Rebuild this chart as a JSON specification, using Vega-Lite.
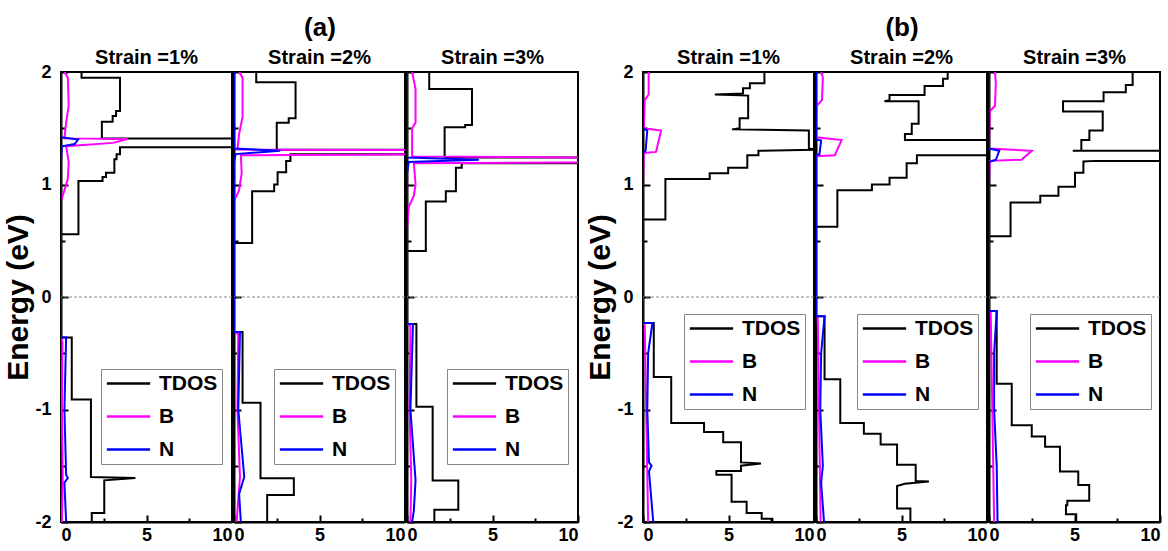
{
"$schema":"https://vega.github.io/schema/vega-lite/v6.json",
"padding":{"top":15,"left":2,"right":5,"bottom":5},
"config":{
 "font":"Liberation Sans",
 "view":{"stroke":"black","strokeWidth":2},
 "axis":{"domainColor":"black","domainWidth":2,"tickColor":"black","tickWidth":2,"labelColor":"black","labelFontSize":18,"labelFontWeight":"bold","labelFont":"Liberation Sans","titleFont":"Liberation Sans","titleColor":"black","titleFontWeight":"bold","grid":false},
 "title":{"fontSize":20,"fontWeight":"bold","font":"Liberation Sans","color":"black","offset":3},
 "legend":{"title":null,"strokeColor":"#888","padding":4,"symbolType":"M-1,0H4","symbolSize":300,"symbolStrokeWidth":2.5,"labelFontSize":21,"labelFontWeight":"bold","labelFont":"Liberation Sans","labelColor":"black","labelOffset":33,"rowPadding":11,"fillColor":"white"}
},
"datasets":{"dos":[
{"p":"a1","s":"TDOS","g":"u","d":1.2,"e":2},{"p":"a1","s":"TDOS","g":"u","d":1.2,"e":1.95},{"p":"a1","s":"TDOS","g":"u","d":3.45,"e":1.95},{"p":"a1","s":"TDOS","g":"u","d":3.45,"e":1.653},{"p":"a1","s":"TDOS","g":"u","d":3.22,"e":1.653},{"p":"a1","s":"TDOS","g":"u","d":3.22,"e":1.609},{"p":"a1","s":"TDOS","g":"u","d":3.02,"e":1.609},{"p":"a1","s":"TDOS","g":"u","d":3.02,"e":1.558},{"p":"a1","s":"TDOS","g":"u","d":2.39,"e":1.558},{"p":"a1","s":"TDOS","g":"u","d":2.39,"e":1.41},{"p":"a1","s":"TDOS","g":"u","d":30,"e":1.41},{"p":"a1","s":"TDOS","g":"u","d":30,"e":1.332},{"p":"a1","s":"TDOS","g":"u","d":3.45,"e":1.332},{"p":"a1","s":"TDOS","g":"u","d":3.45,"e":1.268},{"p":"a1","s":"TDOS","g":"u","d":3.25,"e":1.268},{"p":"a1","s":"TDOS","g":"u","d":3.25,"e":1.224},{"p":"a1","s":"TDOS","g":"u","d":3.12,"e":1.224},{"p":"a1","s":"TDOS","g":"u","d":3.12,"e":1.105},{"p":"a1","s":"TDOS","g":"u","d":2.63,"e":1.105},{"p":"a1","s":"TDOS","g":"u","d":2.63,"e":1.067},{"p":"a1","s":"TDOS","g":"u","d":2.43,"e":1.067},{"p":"a1","s":"TDOS","g":"u","d":2.43,"e":1.031},{"p":"a1","s":"TDOS","g":"u","d":1.02,"e":1.031},{"p":"a1","s":"TDOS","g":"u","d":1.02,"e":0.557},{"p":"a1","s":"TDOS","g":"u","d":0,"e":0.557},
{"p":"a1","s":"TDOS","g":"l","d":0,"e":-0.36},{"p":"a1","s":"TDOS","g":"l","d":0.63,"e":-0.36},{"p":"a1","s":"TDOS","g":"l","d":0.63,"e":-0.91},{"p":"a1","s":"TDOS","g":"l","d":1.75,"e":-0.91},{"p":"a1","s":"TDOS","g":"l","d":1.75,"e":-1.6},{"p":"a1","s":"TDOS","g":"l","d":4.35,"e":-1.608},{"p":"a1","s":"TDOS","g":"l","d":2.53,"e":-1.63},{"p":"a1","s":"TDOS","g":"l","d":2.53,"e":-1.92},{"p":"a1","s":"TDOS","g":"l","d":1.8,"e":-1.92},{"p":"a1","s":"TDOS","g":"l","d":1.8,"e":-2},
{"p":"a1","s":"B","g":"x","d":0.2,"e":2},{"p":"a1","s":"B","g":"x","d":0.4,"e":1.95},{"p":"a1","s":"B","g":"x","d":0.45,"e":1.7},{"p":"a1","s":"B","g":"x","d":0.3,"e":1.55},{"p":"a1","s":"B","g":"x","d":0.2,"e":1.41},{"p":"a1","s":"B","g":"x","d":3.9,"e":1.405},{"p":"a1","s":"B","g":"x","d":3.05,"e":1.37},{"p":"a1","s":"B","g":"x","d":0.3,"e":1.34},{"p":"a1","s":"B","g":"x","d":0.45,"e":1.2},{"p":"a1","s":"B","g":"x","d":0.4,"e":1.05},{"p":"a1","s":"B","g":"x","d":0.2,"e":0.95},{"p":"a1","s":"B","g":"x","d":0,"e":0.85},{"p":"a1","s":"B","g":"x","d":0,"e":-0.36},{"p":"a1","s":"B","g":"x","d":0.08,"e":-0.4},{"p":"a1","s":"B","g":"x","d":0.05,"e":-1.0},{"p":"a1","s":"B","g":"x","d":0.1,"e":-1.6},{"p":"a1","s":"B","g":"x","d":0.05,"e":-2},
{"p":"a1","s":"N","g":"x","d":0,"e":2},{"p":"a1","s":"N","g":"x","d":0,"e":1.42},{"p":"a1","s":"N","g":"x","d":1.0,"e":1.4},{"p":"a1","s":"N","g":"x","d":0.8,"e":1.36},{"p":"a1","s":"N","g":"x","d":0.05,"e":1.34},{"p":"a1","s":"N","g":"x","d":0,"e":1.2},{"p":"a1","s":"N","g":"x","d":0,"e":-0.36},{"p":"a1","s":"N","g":"x","d":0.3,"e":-0.36},{"p":"a1","s":"N","g":"x","d":0.2,"e":-1.0},{"p":"a1","s":"N","g":"x","d":0.3,"e":-1.58},{"p":"a1","s":"N","g":"x","d":0.4,"e":-1.61},{"p":"a1","s":"N","g":"x","d":0.2,"e":-1.65},{"p":"a1","s":"N","g":"x","d":0.3,"e":-2},

{"p":"a2","s":"TDOS","g":"u","d":1.3,"e":2},{"p":"a2","s":"TDOS","g":"u","d":1.3,"e":1.91},{"p":"a2","s":"TDOS","g":"u","d":3.6,"e":1.91},{"p":"a2","s":"TDOS","g":"u","d":3.6,"e":1.59},{"p":"a2","s":"TDOS","g":"u","d":3.2,"e":1.59},{"p":"a2","s":"TDOS","g":"u","d":3.2,"e":1.55},{"p":"a2","s":"TDOS","g":"u","d":2.5,"e":1.55},{"p":"a2","s":"TDOS","g":"u","d":2.5,"e":1.31},{"p":"a2","s":"TDOS","g":"u","d":30,"e":1.31},{"p":"a2","s":"TDOS","g":"u","d":30,"e":1.27},{"p":"a2","s":"TDOS","g":"u","d":3.3,"e":1.27},{"p":"a2","s":"TDOS","g":"u","d":3.3,"e":1.21},{"p":"a2","s":"TDOS","g":"u","d":3.05,"e":1.21},{"p":"a2","s":"TDOS","g":"u","d":3.05,"e":1.11},{"p":"a2","s":"TDOS","g":"u","d":2.55,"e":1.11},{"p":"a2","s":"TDOS","g":"u","d":2.55,"e":1.0},{"p":"a2","s":"TDOS","g":"u","d":2.35,"e":1.0},{"p":"a2","s":"TDOS","g":"u","d":2.35,"e":0.94},{"p":"a2","s":"TDOS","g":"u","d":1.06,"e":0.94},{"p":"a2","s":"TDOS","g":"u","d":1.06,"e":0.48},{"p":"a2","s":"TDOS","g":"u","d":0,"e":0.48},
{"p":"a2","s":"TDOS","g":"l","d":0,"e":-0.31},{"p":"a2","s":"TDOS","g":"l","d":0.5,"e":-0.31},{"p":"a2","s":"TDOS","g":"l","d":0.5,"e":-0.94},{"p":"a2","s":"TDOS","g":"l","d":1.55,"e":-0.94},{"p":"a2","s":"TDOS","g":"l","d":1.55,"e":-1.61},{"p":"a2","s":"TDOS","g":"l","d":3.5,"e":-1.61},{"p":"a2","s":"TDOS","g":"l","d":3.5,"e":-1.76},{"p":"a2","s":"TDOS","g":"l","d":1.94,"e":-1.76},{"p":"a2","s":"TDOS","g":"l","d":1.94,"e":-2},
{"p":"a2","s":"B","g":"x","d":0.3,"e":2},{"p":"a2","s":"B","g":"x","d":0.5,"e":1.95},{"p":"a2","s":"B","g":"x","d":0.5,"e":1.6},{"p":"a2","s":"B","g":"x","d":0.3,"e":1.45},{"p":"a2","s":"B","g":"x","d":0.2,"e":1.31},{"p":"a2","s":"B","g":"x","d":30,"e":1.3},{"p":"a2","s":"B","g":"x","d":30,"e":1.28},{"p":"a2","s":"B","g":"x","d":0.4,"e":1.26},{"p":"a2","s":"B","g":"x","d":0.45,"e":1.1},{"p":"a2","s":"B","g":"x","d":0.3,"e":0.95},{"p":"a2","s":"B","g":"x","d":0,"e":0.85},{"p":"a2","s":"B","g":"x","d":0,"e":-0.31},{"p":"a2","s":"B","g":"x","d":0.25,"e":-0.33},{"p":"a2","s":"B","g":"x","d":0.2,"e":-1.0},{"p":"a2","s":"B","g":"x","d":0.35,"e":-1.6},{"p":"a2","s":"B","g":"x","d":0.15,"e":-2},
{"p":"a2","s":"N","g":"x","d":0,"e":2},{"p":"a2","s":"N","g":"x","d":0,"e":1.32},{"p":"a2","s":"N","g":"x","d":2.7,"e":1.3},{"p":"a2","s":"N","g":"x","d":0.1,"e":1.27},{"p":"a2","s":"N","g":"x","d":0,"e":1.2},{"p":"a2","s":"N","g":"x","d":0,"e":-0.31},{"p":"a2","s":"N","g":"x","d":0.35,"e":-0.31},{"p":"a2","s":"N","g":"x","d":0.25,"e":-1.0},{"p":"a2","s":"N","g":"x","d":0.6,"e":-1.6},{"p":"a2","s":"N","g":"x","d":0.3,"e":-1.75},{"p":"a2","s":"N","g":"x","d":0.4,"e":-2},

{"p":"a3","s":"TDOS","g":"u","d":1.3,"e":2},{"p":"a3","s":"TDOS","g":"u","d":1.3,"e":1.85},{"p":"a3","s":"TDOS","g":"u","d":3.8,"e":1.85},{"p":"a3","s":"TDOS","g":"u","d":3.8,"e":1.53},{"p":"a3","s":"TDOS","g":"u","d":3.4,"e":1.53},{"p":"a3","s":"TDOS","g":"u","d":3.4,"e":1.51},{"p":"a3","s":"TDOS","g":"u","d":2.2,"e":1.51},{"p":"a3","s":"TDOS","g":"u","d":2.2,"e":1.24},{"p":"a3","s":"TDOS","g":"u","d":30,"e":1.24},{"p":"a3","s":"TDOS","g":"u","d":30,"e":1.19},{"p":"a3","s":"TDOS","g":"u","d":3.2,"e":1.19},{"p":"a3","s":"TDOS","g":"u","d":3.2,"e":1.15},{"p":"a3","s":"TDOS","g":"u","d":2.86,"e":1.15},{"p":"a3","s":"TDOS","g":"u","d":2.86,"e":0.94},{"p":"a3","s":"TDOS","g":"u","d":2.27,"e":0.94},{"p":"a3","s":"TDOS","g":"u","d":2.27,"e":0.85},{"p":"a3","s":"TDOS","g":"u","d":1.1,"e":0.85},{"p":"a3","s":"TDOS","g":"u","d":1.1,"e":0.41},{"p":"a3","s":"TDOS","g":"u","d":0,"e":0.41},
{"p":"a3","s":"TDOS","g":"l","d":0,"e":-0.24},{"p":"a3","s":"TDOS","g":"l","d":0.55,"e":-0.24},{"p":"a3","s":"TDOS","g":"l","d":0.55,"e":-0.975},{"p":"a3","s":"TDOS","g":"l","d":1.5,"e":-0.975},{"p":"a3","s":"TDOS","g":"l","d":1.5,"e":-1.63},{"p":"a3","s":"TDOS","g":"l","d":3.0,"e":-1.63},{"p":"a3","s":"TDOS","g":"l","d":3.0,"e":-1.89},{"p":"a3","s":"TDOS","g":"l","d":1.6,"e":-1.89},{"p":"a3","s":"TDOS","g":"l","d":1.6,"e":-2},
{"p":"a3","s":"B","g":"x","d":0.3,"e":2},{"p":"a3","s":"B","g":"x","d":0.5,"e":1.85},{"p":"a3","s":"B","g":"x","d":0.5,"e":1.55},{"p":"a3","s":"B","g":"x","d":0.3,"e":1.5},{"p":"a3","s":"B","g":"x","d":0.3,"e":1.25},{"p":"a3","s":"B","g":"x","d":30,"e":1.22},{"p":"a3","s":"B","g":"x","d":30,"e":1.21},{"p":"a3","s":"B","g":"x","d":0.4,"e":1.19},{"p":"a3","s":"B","g":"x","d":0.5,"e":1.0},{"p":"a3","s":"B","g":"x","d":0.4,"e":0.9},{"p":"a3","s":"B","g":"x","d":0.1,"e":0.8},{"p":"a3","s":"B","g":"x","d":0,"e":0.6},{"p":"a3","s":"B","g":"x","d":0,"e":-0.24},{"p":"a3","s":"B","g":"x","d":0.2,"e":-0.26},{"p":"a3","s":"B","g":"x","d":0.15,"e":-1.0},{"p":"a3","s":"B","g":"x","d":0.25,"e":-1.63},{"p":"a3","s":"B","g":"x","d":0.2,"e":-2},
{"p":"a3","s":"N","g":"x","d":0,"e":2},{"p":"a3","s":"N","g":"x","d":0,"e":1.24},{"p":"a3","s":"N","g":"x","d":4.2,"e":1.22},{"p":"a3","s":"N","g":"x","d":0.1,"e":1.2},{"p":"a3","s":"N","g":"x","d":0,"e":1.1},{"p":"a3","s":"N","g":"x","d":0,"e":-0.24},{"p":"a3","s":"N","g":"x","d":0.35,"e":-0.24},{"p":"a3","s":"N","g":"x","d":0.2,"e":-1.0},{"p":"a3","s":"N","g":"x","d":0.5,"e":-1.63},{"p":"a3","s":"N","g":"x","d":0.4,"e":-1.9},{"p":"a3","s":"N","g":"x","d":0.3,"e":-2},

{"p":"b1","s":"TDOS","g":"u","d":7.1,"e":2},{"p":"b1","s":"TDOS","g":"u","d":7.1,"e":1.9},{"p":"b1","s":"TDOS","g":"u","d":6.25,"e":1.9},{"p":"b1","s":"TDOS","g":"u","d":6.25,"e":1.855},{"p":"b1","s":"TDOS","g":"u","d":5.85,"e":1.855},{"p":"b1","s":"TDOS","g":"u","d":5.85,"e":1.81},{"p":"b1","s":"TDOS","g":"u","d":4.2,"e":1.8},{"p":"b1","s":"TDOS","g":"u","d":6.15,"e":1.79},{"p":"b1","s":"TDOS","g":"u","d":6.15,"e":1.59},{"p":"b1","s":"TDOS","g":"u","d":5.65,"e":1.59},{"p":"b1","s":"TDOS","g":"u","d":5.65,"e":1.5},{"p":"b1","s":"TDOS","g":"u","d":5.2,"e":1.49},{"p":"b1","s":"TDOS","g":"u","d":9.7,"e":1.48},{"p":"b1","s":"TDOS","g":"u","d":9.7,"e":1.32},{"p":"b1","s":"TDOS","g":"u","d":10.2,"e":1.31},{"p":"b1","s":"TDOS","g":"u","d":6.75,"e":1.3},{"p":"b1","s":"TDOS","g":"u","d":6.75,"e":1.26},{"p":"b1","s":"TDOS","g":"u","d":6.1,"e":1.26},{"p":"b1","s":"TDOS","g":"u","d":6.1,"e":1.15},{"p":"b1","s":"TDOS","g":"u","d":4.98,"e":1.15},{"p":"b1","s":"TDOS","g":"u","d":4.98,"e":1.1},{"p":"b1","s":"TDOS","g":"u","d":3.9,"e":1.1},{"p":"b1","s":"TDOS","g":"u","d":3.9,"e":1.05},{"p":"b1","s":"TDOS","g":"u","d":1.31,"e":1.05},{"p":"b1","s":"TDOS","g":"u","d":1.31,"e":0.69},{"p":"b1","s":"TDOS","g":"u","d":0,"e":0.69},
{"p":"b1","s":"TDOS","g":"l","d":0,"e":-0.23},{"p":"b1","s":"TDOS","g":"l","d":0.63,"e":-0.23},{"p":"b1","s":"TDOS","g":"l","d":0.63,"e":-0.71},{"p":"b1","s":"TDOS","g":"l","d":1.65,"e":-0.71},{"p":"b1","s":"TDOS","g":"l","d":1.65,"e":-1.12},{"p":"b1","s":"TDOS","g":"l","d":3.57,"e":-1.12},{"p":"b1","s":"TDOS","g":"l","d":3.57,"e":-1.2},{"p":"b1","s":"TDOS","g":"l","d":4.69,"e":-1.2},{"p":"b1","s":"TDOS","g":"l","d":4.69,"e":-1.29},{"p":"b1","s":"TDOS","g":"l","d":5.73,"e":-1.29},{"p":"b1","s":"TDOS","g":"l","d":5.73,"e":-1.47},{"p":"b1","s":"TDOS","g":"l","d":6.9,"e":-1.48},{"p":"b1","s":"TDOS","g":"l","d":5.73,"e":-1.5},{"p":"b1","s":"TDOS","g":"l","d":5.73,"e":-1.547},{"p":"b1","s":"TDOS","g":"l","d":4.29,"e":-1.547},{"p":"b1","s":"TDOS","g":"l","d":4.29,"e":-1.58},{"p":"b1","s":"TDOS","g":"l","d":5.18,"e":-1.58},{"p":"b1","s":"TDOS","g":"l","d":5.18,"e":-1.82},{"p":"b1","s":"TDOS","g":"l","d":6.06,"e":-1.82},{"p":"b1","s":"TDOS","g":"l","d":6.06,"e":-1.92},{"p":"b1","s":"TDOS","g":"l","d":6.94,"e":-1.92},{"p":"b1","s":"TDOS","g":"l","d":6.94,"e":-1.97},{"p":"b1","s":"TDOS","g":"l","d":7.57,"e":-1.97},{"p":"b1","s":"TDOS","g":"l","d":7.57,"e":-2},
{"p":"b1","s":"B","g":"x","d":0.33,"e":2},{"p":"b1","s":"B","g":"x","d":0.33,"e":1.8},{"p":"b1","s":"B","g":"x","d":0.1,"e":1.75},{"p":"b1","s":"B","g":"x","d":0.05,"e":1.5},{"p":"b1","s":"B","g":"x","d":1.06,"e":1.48},{"p":"b1","s":"B","g":"x","d":0.76,"e":1.29},{"p":"b1","s":"B","g":"x","d":0.05,"e":1.28},{"p":"b1","s":"B","g":"x","d":0,"e":1.0},{"p":"b1","s":"B","g":"x","d":0,"e":-0.23},{"p":"b1","s":"B","g":"x","d":0.1,"e":-0.25},{"p":"b1","s":"B","g":"x","d":0.3,"e":-2},
{"p":"b1","s":"N","g":"x","d":0,"e":2},{"p":"b1","s":"N","g":"x","d":0,"e":1.5},{"p":"b1","s":"N","g":"x","d":0.25,"e":1.48},{"p":"b1","s":"N","g":"x","d":0.15,"e":1.3},{"p":"b1","s":"N","g":"x","d":0,"e":1.28},{"p":"b1","s":"N","g":"x","d":0,"e":-0.23},{"p":"b1","s":"N","g":"x","d":0.55,"e":-0.23},{"p":"b1","s":"N","g":"x","d":0.3,"e":-0.5},{"p":"b1","s":"N","g":"x","d":0.25,"e":-1.0},{"p":"b1","s":"N","g":"x","d":0.35,"e":-1.47},{"p":"b1","s":"N","g":"x","d":0.5,"e":-1.5},{"p":"b1","s":"N","g":"x","d":0.35,"e":-1.55},{"p":"b1","s":"N","g":"x","d":0.6,"e":-2},

{"p":"b2","s":"TDOS","g":"u","d":7.7,"e":2},{"p":"b2","s":"TDOS","g":"u","d":7.7,"e":1.94},{"p":"b2","s":"TDOS","g":"u","d":7.43,"e":1.94},{"p":"b2","s":"TDOS","g":"u","d":7.43,"e":1.875},{"p":"b2","s":"TDOS","g":"u","d":6.35,"e":1.875},{"p":"b2","s":"TDOS","g":"u","d":6.35,"e":1.795},{"p":"b2","s":"TDOS","g":"u","d":4.3,"e":1.795},{"p":"b2","s":"TDOS","g":"u","d":4.3,"e":1.75},{"p":"b2","s":"TDOS","g":"u","d":4.0,"e":1.74},{"p":"b2","s":"TDOS","g":"u","d":6.0,"e":1.74},{"p":"b2","s":"TDOS","g":"u","d":6.0,"e":1.54},{"p":"b2","s":"TDOS","g":"u","d":5.6,"e":1.54},{"p":"b2","s":"TDOS","g":"u","d":5.6,"e":1.45},{"p":"b2","s":"TDOS","g":"u","d":5.2,"e":1.45},{"p":"b2","s":"TDOS","g":"u","d":5.2,"e":1.395},{"p":"b2","s":"TDOS","g":"u","d":30,"e":1.395},{"p":"b2","s":"TDOS","g":"u","d":30,"e":1.26},{"p":"b2","s":"TDOS","g":"u","d":5.9,"e":1.26},{"p":"b2","s":"TDOS","g":"u","d":5.9,"e":1.19},{"p":"b2","s":"TDOS","g":"u","d":5.3,"e":1.19},{"p":"b2","s":"TDOS","g":"u","d":5.3,"e":1.06},{"p":"b2","s":"TDOS","g":"u","d":4.3,"e":1.06},{"p":"b2","s":"TDOS","g":"u","d":4.3,"e":1.0},{"p":"b2","s":"TDOS","g":"u","d":3.27,"e":1.0},{"p":"b2","s":"TDOS","g":"u","d":3.27,"e":0.95},{"p":"b2","s":"TDOS","g":"u","d":1.25,"e":0.95},{"p":"b2","s":"TDOS","g":"u","d":1.25,"e":0.625},{"p":"b2","s":"TDOS","g":"u","d":0,"e":0.625},
{"p":"b2","s":"TDOS","g":"l","d":0,"e":-0.17},{"p":"b2","s":"TDOS","g":"l","d":0.5,"e":-0.17},{"p":"b2","s":"TDOS","g":"l","d":0.5,"e":-0.73},{"p":"b2","s":"TDOS","g":"l","d":1.42,"e":-0.73},{"p":"b2","s":"TDOS","g":"l","d":1.42,"e":-1.12},{"p":"b2","s":"TDOS","g":"l","d":2.8,"e":-1.12},{"p":"b2","s":"TDOS","g":"l","d":2.8,"e":-1.215},{"p":"b2","s":"TDOS","g":"l","d":3.78,"e":-1.215},{"p":"b2","s":"TDOS","g":"l","d":3.78,"e":-1.31},{"p":"b2","s":"TDOS","g":"l","d":4.74,"e":-1.31},{"p":"b2","s":"TDOS","g":"l","d":4.74,"e":-1.49},{"p":"b2","s":"TDOS","g":"l","d":5.83,"e":-1.49},{"p":"b2","s":"TDOS","g":"l","d":5.83,"e":-1.635},{"p":"b2","s":"TDOS","g":"l","d":6.6,"e":-1.64},{"p":"b2","s":"TDOS","g":"l","d":5.19,"e":-1.66},{"p":"b2","s":"TDOS","g":"l","d":4.74,"e":-1.68},{"p":"b2","s":"TDOS","g":"l","d":4.74,"e":-1.88},{"p":"b2","s":"TDOS","g":"l","d":5.52,"e":-1.88},{"p":"b2","s":"TDOS","g":"l","d":5.52,"e":-2},
{"p":"b2","s":"B","g":"x","d":0.3,"e":2},{"p":"b2","s":"B","g":"x","d":0.4,"e":1.95},{"p":"b2","s":"B","g":"x","d":0.35,"e":1.75},{"p":"b2","s":"B","g":"x","d":0.05,"e":1.7},{"p":"b2","s":"B","g":"x","d":0,"e":1.42},{"p":"b2","s":"B","g":"x","d":1.5,"e":1.395},{"p":"b2","s":"B","g":"x","d":1.1,"e":1.26},{"p":"b2","s":"B","g":"x","d":0,"e":1.25},{"p":"b2","s":"B","g":"x","d":0,"e":-0.17},{"p":"b2","s":"B","g":"x","d":0.1,"e":-0.17},{"p":"b2","s":"B","g":"x","d":0.27,"e":-2},
{"p":"b2","s":"N","g":"x","d":0,"e":2},{"p":"b2","s":"N","g":"x","d":0,"e":1.4},{"p":"b2","s":"N","g":"x","d":0.3,"e":1.39},{"p":"b2","s":"N","g":"x","d":0.2,"e":1.27},{"p":"b2","s":"N","g":"x","d":0,"e":1.26},{"p":"b2","s":"N","g":"x","d":0,"e":-0.17},{"p":"b2","s":"N","g":"x","d":0.5,"e":-0.17},{"p":"b2","s":"N","g":"x","d":0.3,"e":-0.5},{"p":"b2","s":"N","g":"x","d":0.25,"e":-1.0},{"p":"b2","s":"N","g":"x","d":0.4,"e":-1.5},{"p":"b2","s":"N","g":"x","d":0.3,"e":-1.65},{"p":"b2","s":"N","g":"x","d":0.47,"e":-2},

{"p":"b3","s":"TDOS","g":"u","d":8.4,"e":2},{"p":"b3","s":"TDOS","g":"u","d":8.4,"e":1.885},{"p":"b3","s":"TDOS","g":"u","d":8.0,"e":1.885},{"p":"b3","s":"TDOS","g":"u","d":8.0,"e":1.82},{"p":"b3","s":"TDOS","g":"u","d":6.7,"e":1.82},{"p":"b3","s":"TDOS","g":"u","d":6.7,"e":1.74},{"p":"b3","s":"TDOS","g":"u","d":4.33,"e":1.74},{"p":"b3","s":"TDOS","g":"u","d":4.33,"e":1.65},{"p":"b3","s":"TDOS","g":"u","d":6.65,"e":1.65},{"p":"b3","s":"TDOS","g":"u","d":6.65,"e":1.48},{"p":"b3","s":"TDOS","g":"u","d":5.87,"e":1.48},{"p":"b3","s":"TDOS","g":"u","d":5.87,"e":1.395},{"p":"b3","s":"TDOS","g":"u","d":5.4,"e":1.395},{"p":"b3","s":"TDOS","g":"u","d":5.4,"e":1.3},{"p":"b3","s":"TDOS","g":"u","d":4.9,"e":1.3},{"p":"b3","s":"TDOS","g":"u","d":30,"e":1.3},{"p":"b3","s":"TDOS","g":"u","d":30,"e":1.21},{"p":"b3","s":"TDOS","g":"u","d":6.2,"e":1.21},{"p":"b3","s":"TDOS","g":"u","d":5.52,"e":1.205},{"p":"b3","s":"TDOS","g":"u","d":5.52,"e":1.105},{"p":"b3","s":"TDOS","g":"u","d":5.03,"e":1.105},{"p":"b3","s":"TDOS","g":"u","d":5.03,"e":0.98},{"p":"b3","s":"TDOS","g":"u","d":4.06,"e":0.98},{"p":"b3","s":"TDOS","g":"u","d":4.06,"e":0.9},{"p":"b3","s":"TDOS","g":"u","d":3.0,"e":0.9},{"p":"b3","s":"TDOS","g":"u","d":3.0,"e":0.84},{"p":"b3","s":"TDOS","g":"u","d":1.26,"e":0.84},{"p":"b3","s":"TDOS","g":"u","d":1.26,"e":0.54},{"p":"b3","s":"TDOS","g":"u","d":0,"e":0.54},
{"p":"b3","s":"TDOS","g":"l","d":0,"e":-0.125},{"p":"b3","s":"TDOS","g":"l","d":0.45,"e":-0.125},{"p":"b3","s":"TDOS","g":"l","d":0.45,"e":-0.77},{"p":"b3","s":"TDOS","g":"l","d":1.33,"e":-0.77},{"p":"b3","s":"TDOS","g":"l","d":1.33,"e":-1.14},{"p":"b3","s":"TDOS","g":"l","d":2.5,"e":-1.14},{"p":"b3","s":"TDOS","g":"l","d":2.5,"e":-1.24},{"p":"b3","s":"TDOS","g":"l","d":3.28,"e":-1.24},{"p":"b3","s":"TDOS","g":"l","d":3.28,"e":-1.33},{"p":"b3","s":"TDOS","g":"l","d":4.15,"e":-1.33},{"p":"b3","s":"TDOS","g":"l","d":4.15,"e":-1.55},{"p":"b3","s":"TDOS","g":"l","d":5.22,"e":-1.55},{"p":"b3","s":"TDOS","g":"l","d":5.22,"e":-1.67},{"p":"b3","s":"TDOS","g":"l","d":5.86,"e":-1.67},{"p":"b3","s":"TDOS","g":"l","d":5.86,"e":-1.81},{"p":"b3","s":"TDOS","g":"l","d":4.58,"e":-1.81},{"p":"b3","s":"TDOS","g":"l","d":4.58,"e":-1.85},{"p":"b3","s":"TDOS","g":"l","d":4.5,"e":-1.85},{"p":"b3","s":"TDOS","g":"l","d":4.5,"e":-1.93},{"p":"b3","s":"TDOS","g":"l","d":5.1,"e":-1.93},{"p":"b3","s":"TDOS","g":"l","d":5.1,"e":-2},
{"p":"b3","s":"B","g":"x","d":0.35,"e":2},{"p":"b3","s":"B","g":"x","d":0.4,"e":1.9},{"p":"b3","s":"B","g":"x","d":0.35,"e":1.7},{"p":"b3","s":"B","g":"x","d":0.05,"e":1.65},{"p":"b3","s":"B","g":"x","d":0,"e":1.32},{"p":"b3","s":"B","g":"x","d":2.5,"e":1.3},{"p":"b3","s":"B","g":"x","d":1.9,"e":1.22},{"p":"b3","s":"B","g":"x","d":0.05,"e":1.21},{"p":"b3","s":"B","g":"x","d":0,"e":1.0},{"p":"b3","s":"B","g":"x","d":0,"e":-0.125},{"p":"b3","s":"B","g":"x","d":0.1,"e":-0.13},{"p":"b3","s":"B","g":"x","d":0.3,"e":-2},
{"p":"b3","s":"N","g":"x","d":0,"e":2},{"p":"b3","s":"N","g":"x","d":0,"e":1.32},{"p":"b3","s":"N","g":"x","d":0.6,"e":1.3},{"p":"b3","s":"N","g":"x","d":0.4,"e":1.22},{"p":"b3","s":"N","g":"x","d":0,"e":1.2},{"p":"b3","s":"N","g":"x","d":0,"e":-0.125},{"p":"b3","s":"N","g":"x","d":0.45,"e":-0.125},{"p":"b3","s":"N","g":"x","d":0.3,"e":-0.5},{"p":"b3","s":"N","g":"x","d":0.3,"e":-1.0},{"p":"b3","s":"N","g":"x","d":0.45,"e":-1.5},{"p":"b3","s":"N","g":"x","d":0.5,"e":-2}
]},
"spacing":4,
"resolve":{"legend":{"color":"independent"}},
"hconcat":[
{"title":{"text":"(a)","fontSize":26,"offset":6,"anchor":"middle","frame":"group","dx":259},"spacing":-2,"resolve":{"legend":{"color":"independent"}},
 "hconcat":[
  {"width":171,"height":450,"title":{"text":"Strain =1%","dy":8},"layer":[
   {"data":{"name":"dos"},"transform":[{"filter":"datum.p==='a1'"}],"mark":{"type":"line","clip":true,"strokeWidth":2},"encoding":{
    "x":{"field":"d","type":"quantitative","scale":{"domain":[0,10],"nice":false},"axis":{"values":[0,2.5,5,7.5,10],"labelExpr":"datum.value % 5 === 0 ? '' + datum.value : ''","title":null,"tickSize":{"condition":{"test":"datum.value % 5 === 0","value":-7},"value":-4},"labelPadding":11,"labelFlush":true}},
    "y":{"field":"e","type":"quantitative","scale":{"domain":[-2,2],"nice":false},"axis":{"values":[-2,-1.5,-1,-0.5,0,0.5,1,1.5,2],"labelExpr":"datum.value % 1 === 0 ? '' + datum.value : ''","title":"Energy (eV)","titleFontSize":30,"titlePadding":1,"tickSize":{"condition":{"test":"datum.value % 1 === 0","value":-7},"value":-4},"labelPadding":17,"labelFlush":false}},
    "color":{"field":"s","type":"nominal","scale":{"domain":["TDOS","B","N"],"range":["#000000","#ff00ff","#0000ff"]},"legend":{"orient":"none","legendX":40,"legendY":297}},
    "detail":{"field":"g"},"order":{"value":null}}},
   {"data":{"values":[{}]},"mark":{"type":"rule","stroke":"#888","strokeDash":[3,2],"strokeWidth":1},"encoding":{"y":{"datum":0,"type":"quantitative"}}}
  ]},
  {"width":171,"height":450,"title":"Strain =2%","layer":[
   {"data":{"name":"dos"},"transform":[{"filter":"datum.p==='a2'"}],"mark":{"type":"line","clip":true,"strokeWidth":2},"encoding":{
    "x":{"field":"d","type":"quantitative","scale":{"domain":[0,10],"nice":false},"axis":{"values":[0,2.5,5,7.5,10],"labelExpr":"datum.value % 5 === 0 ? '' + datum.value : ''","title":null,"tickSize":{"condition":{"test":"datum.value % 5 === 0","value":-7},"value":-4},"labelPadding":11,"labelFlush":true}},
    "y":{"field":"e","type":"quantitative","scale":{"domain":[-2,2],"nice":false},"axis":{"values":[-2,-1.5,-1,-0.5,0,0.5,1,1.5,2],"labels":false,"title":null,"tickSize":{"condition":{"test":"datum.value % 1 === 0","value":-7},"value":-4}}},
    "color":{"field":"s","type":"nominal","scale":{"domain":["TDOS","B","N"],"range":["#000000","#ff00ff","#0000ff"]},"legend":{"orient":"none","legendX":40,"legendY":297}},
    "detail":{"field":"g"},"order":{"value":null}}},
   {"data":{"values":[{}]},"mark":{"type":"rule","stroke":"#888","strokeDash":[3,2],"strokeWidth":1},"encoding":{"y":{"datum":0,"type":"quantitative"}}}
  ]},
  {"width":171,"height":450,"title":"Strain =3%","layer":[
   {"data":{"name":"dos"},"transform":[{"filter":"datum.p==='a3'"}],"mark":{"type":"line","clip":true,"strokeWidth":2},"encoding":{
    "x":{"field":"d","type":"quantitative","scale":{"domain":[0,10],"nice":false},"axis":{"values":[0,2.5,5,7.5,10],"labelExpr":"datum.value % 5 === 0 ? '' + datum.value : ''","title":null,"tickSize":{"condition":{"test":"datum.value % 5 === 0","value":-7},"value":-4},"labelPadding":11,"labelFlush":true}},
    "y":{"field":"e","type":"quantitative","scale":{"domain":[-2,2],"nice":false},"axis":{"values":[-2,-1.5,-1,-0.5,0,0.5,1,1.5,2],"labels":false,"title":null,"tickSize":{"condition":{"test":"datum.value % 1 === 0","value":-7},"value":-4}}},
    "color":{"field":"s","type":"nominal","scale":{"domain":["TDOS","B","N"],"range":["#000000","#ff00ff","#0000ff"]},"legend":{"orient":"none","legendX":40,"legendY":297}},
    "detail":{"field":"g"},"order":{"value":null}}},
   {"data":{"values":[{}]},"mark":{"type":"rule","stroke":"#888","strokeDash":[3,2],"strokeWidth":1},"encoding":{"y":{"datum":0,"type":"quantitative"}}}
  ]}
 ]},
{"title":{"text":"(b)","fontSize":26,"offset":6,"anchor":"middle","frame":"group","dx":259},"spacing":-2,"resolve":{"legend":{"color":"independent"}},
 "hconcat":[
  {"width":171,"height":450,"title":{"text":"Strain =1%","dy":8},"layer":[
   {"data":{"name":"dos"},"transform":[{"filter":"datum.p==='b1'"}],"mark":{"type":"line","clip":true,"strokeWidth":2},"encoding":{
    "x":{"field":"d","type":"quantitative","scale":{"domain":[0,10],"nice":false},"axis":{"values":[0,2.5,5,7.5,10],"labelExpr":"datum.value % 5 === 0 ? '' + datum.value : ''","title":null,"tickSize":{"condition":{"test":"datum.value % 5 === 0","value":-7},"value":-4},"labelPadding":11,"labelFlush":true}},
    "y":{"field":"e","type":"quantitative","scale":{"domain":[-2,2],"nice":false},"axis":{"values":[-2,-1.5,-1,-0.5,0,0.5,1,1.5,2],"labelExpr":"datum.value % 1 === 0 ? '' + datum.value : ''","title":"Energy (eV)","titleFontSize":30,"titlePadding":1,"tickSize":{"condition":{"test":"datum.value % 1 === 0","value":-7},"value":-4},"labelPadding":17,"labelFlush":false}},
    "color":{"field":"s","type":"nominal","scale":{"domain":["TDOS","B","N"],"range":["#000000","#ff00ff","#0000ff"]},"legend":{"orient":"none","legendX":41,"legendY":242}},
    "detail":{"field":"g"},"order":{"value":null}}},
   {"data":{"values":[{}]},"mark":{"type":"rule","stroke":"#888","strokeDash":[3,2],"strokeWidth":1},"encoding":{"y":{"datum":0,"type":"quantitative"}}}
  ]},
  {"width":171,"height":450,"title":"Strain =2%","layer":[
   {"data":{"name":"dos"},"transform":[{"filter":"datum.p==='b2'"}],"mark":{"type":"line","clip":true,"strokeWidth":2},"encoding":{
    "x":{"field":"d","type":"quantitative","scale":{"domain":[0,10],"nice":false},"axis":{"values":[0,2.5,5,7.5,10],"labelExpr":"datum.value % 5 === 0 ? '' + datum.value : ''","title":null,"tickSize":{"condition":{"test":"datum.value % 5 === 0","value":-7},"value":-4},"labelPadding":11,"labelFlush":true}},
    "y":{"field":"e","type":"quantitative","scale":{"domain":[-2,2],"nice":false},"axis":{"values":[-2,-1.5,-1,-0.5,0,0.5,1,1.5,2],"labels":false,"title":null,"tickSize":{"condition":{"test":"datum.value % 1 === 0","value":-7},"value":-4}}},
    "color":{"field":"s","type":"nominal","scale":{"domain":["TDOS","B","N"],"range":["#000000","#ff00ff","#0000ff"]},"legend":{"orient":"none","legendX":41,"legendY":242}},
    "detail":{"field":"g"},"order":{"value":null}}},
   {"data":{"values":[{}]},"mark":{"type":"rule","stroke":"#888","strokeDash":[3,2],"strokeWidth":1},"encoding":{"y":{"datum":0,"type":"quantitative"}}}
  ]},
  {"width":171,"height":450,"title":"Strain =3%","layer":[
   {"data":{"name":"dos"},"transform":[{"filter":"datum.p==='b3'"}],"mark":{"type":"line","clip":true,"strokeWidth":2},"encoding":{
    "x":{"field":"d","type":"quantitative","scale":{"domain":[0,10],"nice":false},"axis":{"values":[0,2.5,5,7.5,10],"labelExpr":"datum.value % 5 === 0 ? '' + datum.value : ''","title":null,"tickSize":{"condition":{"test":"datum.value % 5 === 0","value":-7},"value":-4},"labelPadding":11,"labelFlush":true}},
    "y":{"field":"e","type":"quantitative","scale":{"domain":[-2,2],"nice":false},"axis":{"values":[-2,-1.5,-1,-0.5,0,0.5,1,1.5,2],"labels":false,"title":null,"tickSize":{"condition":{"test":"datum.value % 1 === 0","value":-7},"value":-4}}},
    "color":{"field":"s","type":"nominal","scale":{"domain":["TDOS","B","N"],"range":["#000000","#ff00ff","#0000ff"]},"legend":{"orient":"none","legendX":41,"legendY":242}},
    "detail":{"field":"g"},"order":{"value":null}}},
   {"data":{"values":[{}]},"mark":{"type":"rule","stroke":"#888","strokeDash":[3,2],"strokeWidth":1},"encoding":{"y":{"datum":0,"type":"quantitative"}}}
  ]}
 ]}
]
}
